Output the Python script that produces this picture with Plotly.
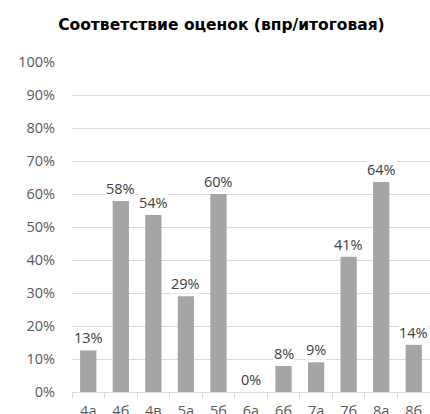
import plotly.graph_objects as go

categories = ["4а", "4б", "4в", "5а", "5б", "6а", "6б", "7а", "7б", "8а", "8б"]
values = [0.126, 0.579, 0.536, 0.29, 0.60, 0.0, 0.079, 0.09, 0.41, 0.636, 0.143]
y_ticks = [0, 0.1, 0.2, 0.3, 0.4, 0.5, 0.6, 0.7, 0.8, 0.9, 1.0]

font_family = "'Open Sans', sans-serif"

fig = go.Figure()
fig.add_trace(go.Bar(
    x=categories, y=values,
    marker=dict(color="#a5a5a5", line=dict(width=0)),
    hoverinfo="skip",
))

for c, v in zip(categories, values):
    fig.add_annotation(
        x=c, y=v, text=f"{round(v*100):d}%", showarrow=False,
        yanchor="bottom", yshift=2, bgcolor="white",
        font=dict(family=font_family, size=14.5, color="#404040"),
        borderpad=0,
    )

fig.update_layout(
    width=430, height=414,
    margin=dict(l=72, r=0, t=62, b=22),
    paper_bgcolor="white", plot_bgcolor="white",
    bargap=0.5,
    showlegend=False,
    title=dict(
        text="<b>Соответствие оценок (впр/итоговая)</b>",
        x=0.515, xanchor="center", y=0.94, yanchor="middle",
        font=dict(family="'DejaVu Sans', sans-serif", size=15.5, color="#000000"),
    ),
    font=dict(family=font_family, color="#595959"),
)
fig.update_yaxes(
    range=[0, 1.0], tickvals=y_ticks, tickformat=".0%",
    showgrid=True, gridcolor="#d9d9d9", gridwidth=1,
    zeroline=False, showline=False, ticks="",
    tickfont=dict(family=font_family, size=14.5, color="#595959"),
    ticklabelstandoff=16, automargin=False,
)
fig.update_xaxes(
    showline=True, linecolor="#d9d9d9", linewidth=1,
    ticks="outside", tickson="boundaries", ticklen=5, tickcolor="#d9d9d9",
    tickfont=dict(family=font_family, size=14.5, color="#595959"),
    showgrid=False, ticklabelstandoff=6, automargin=False,
)

fig.write_html("out.html", config={"displayModeBar": False},
               post_script="document.body.style.margin='0';")
